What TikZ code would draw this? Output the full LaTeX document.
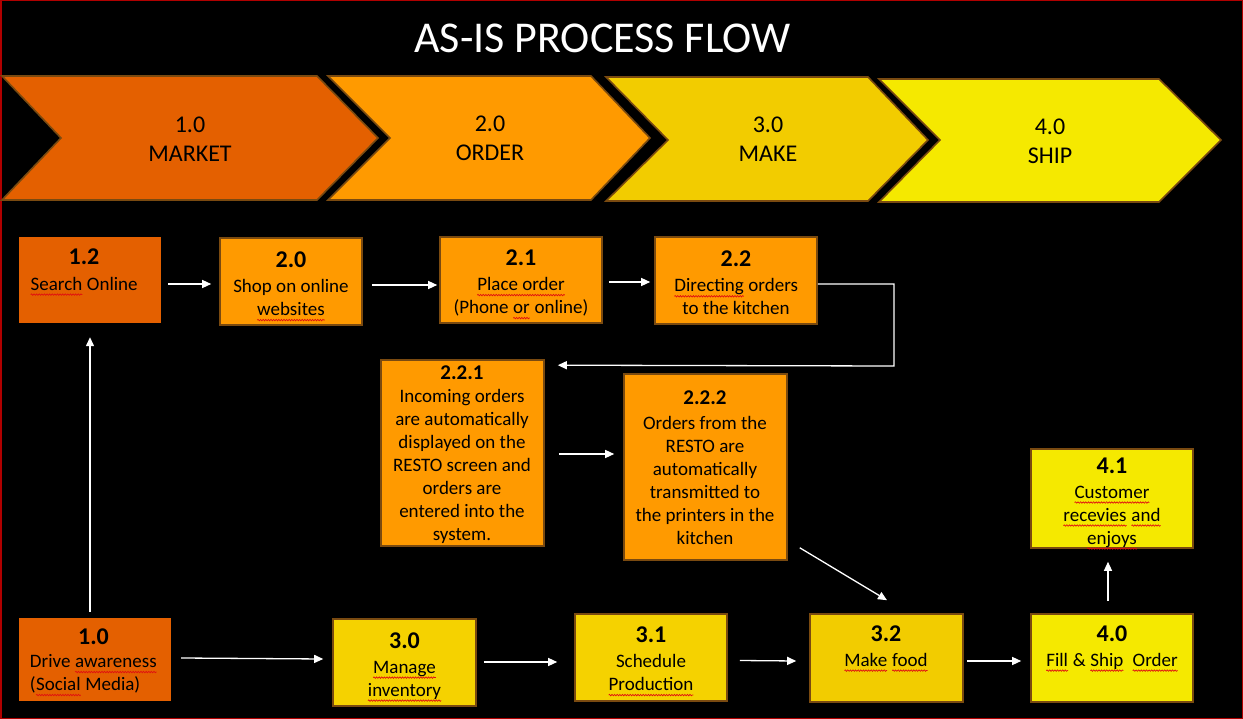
\documentclass[tikz,border=0pt]{standalone}
\usepackage{fontspec}
\setmainfont{Carlito}
\usetikzlibrary{arrows.meta,calc,decorations.pathmorphing}
\definecolor{dorange}{HTML}{E46000}
\definecolor{orangeC}{HTML}{FF9A00}
\definecolor{goldC}{HTML}{F2CC00}
\definecolor{goldB}{HTML}{F5D200}
\definecolor{yellowC}{HTML}{F5E900}
\definecolor{brownB}{HTML}{7A4A10}
\definecolor{frameRed}{HTML}{B00000}
\definecolor{squig}{HTML}{E01010}
\newcommand{\nm}[1]{{\fontsize{24}{26}\selectfont\bfseries #1}}
\newcommand{\nms}[1]{{\fontsize{21}{23}\selectfont\bfseries #1}}
\newcommand{\sq}[1]{\tikz[baseline=(w.base)]{\node[inner sep=0pt, outer sep=0pt] (w) {#1};
  \draw[squig, line width=0.7pt, decorate, decoration={snake, amplitude=0.7pt, segment length=2.6pt}]
    ([yshift=-4.5pt]w.base west) -- ([yshift=-4.5pt]w.base east);}}
\begin{document}
\begin{tikzpicture}[x=1pt,y=-1pt,
  chev/.style={draw=brownB, line width=1.6pt, line join=miter},
  box/.style={rectangle, draw=brownB, line width=1.6pt, inner sep=0pt},
  flatbox/.style={rectangle, draw=none, inner sep=0pt},
  txt/.style={align=center, font=\fontsize{19}{23}\selectfont, text=black, inner sep=0pt},
  chevtxt/.style={align=center, font=\fontsize{24}{29}\selectfont, text=black, inner sep=0pt},
  titletxt/.style={font=\fontsize{44}{50}\selectfont, text=white, inner sep=0pt, anchor=base},
  arr/.style={draw=white, line width=1.3pt, -{Triangle[length=9pt,width=8pt]}}]
\fill[black] (0,0) rectangle (1243,719);
\useasboundingbox (0,0) rectangle (1243,719);
\draw[frameRed, line width=1.5pt] (0.75,0.75) rectangle (1242.25,718.25);

% title
\node[titletxt] (title) at (602.5,53) {AS-IS PROCESS FLOW};

% chevrons
\draw[chev, fill=dorange] (2,76) -- (317,76) -- (378,138) -- (317,200) -- (2,200) -- (61,138) -- cycle;
\draw[chev, fill=orangeC] (328,76) -- (591,76) -- (650,138) -- (591,200) -- (328,200) -- (390,138) -- cycle;
\draw[chev, fill=goldC] (606,77) -- (868,77) -- (928,140) -- (868,201) -- (606,201) -- (668,140) -- cycle;
\draw[chev, fill=yellowC] (879,79) -- (1159,79) -- (1221,140) -- (1159,202) -- (879,202) -- (940,140) -- cycle;
\node[chevtxt] (ch1) at (190,139.5) {1.0\\MARKET};
\node[chevtxt] (ch2) at (490,138.5) {2.0\\ORDER};
\node[chevtxt] (ch3) at (768,139.5) {3.0\\MAKE};
\node[chevtxt] (ch4) at (1050,141) {4.0\\SHIP};

% boxes
\node[flatbox, fill=dorange, minimum width=142, minimum height=86] (b12) at (90,280) {};
\node[box, fill=orangeC, minimum width=142, minimum height=87] (b20) at (291,281.5) {};
\node[box, fill=orangeC, minimum width=162, minimum height=86] (b21) at (521,280) {};
\node[box, fill=orangeC, minimum width=162, minimum height=87] (b22) at (736,280.5) {};
\node[box, fill=orangeC, minimum width=163, minimum height=186] (b221) at (462.5,453) {};
\node[box, fill=orangeC, minimum width=163, minimum height=186] (b222) at (705.5,467) {};
\node[box, fill=yellowC, minimum width=162, minimum height=99] (b41) at (1112,498.5) {};
\node[flatbox, fill=dorange, minimum width=152, minimum height=83] (b10) at (95,659.5) {};
\node[box, fill=goldB, minimum width=143, minimum height=87] (b30) at (404.5,662.5) {};
\node[box, fill=goldB, minimum width=152, minimum height=87] (b31) at (651,657.5) {};
\node[box, fill=goldC, minimum width=153, minimum height=88] (b32) at (886.5,658) {};
\node[box, fill=yellowC, minimum width=162, minimum height=88] (b40) at (1112,658) {};

% texts
\node[txt] (t12) at (84,272) {\nm{1.2}\\[3pt]\sq{Search} Online};
\node[txt] (t20) at (291,286.5) {\nm{2.0}\\[2pt]Shop on online\\\sq{websites}};
\node[txt] (t21) at (521,284.5) {\nm{2.1}\\[2pt]\sq{Place order}\\(Phone \sq{or} online)};
\node[txt] (t22) at (736,283) {\nm{2.2}\\[2pt]\sq{Directing} orders\\to the kitchen};
\node[txt] (t221) at (462,455) {\nms{2.2.1}\\Incoming orders\\are automatically\\displayed on the\\RESTO screen and\\orders are\\entered into the\\system.};
\node[txt] (t222) at (705,467.5) {\nms{2.2.2}\\[2pt]Orders from the\\RESTO are\\automatically\\transmitted to\\the printers in the\\kitchen};
\node[txt] (t41) at (1112,503.5) {\nm{4.1}\\[2pt]\sq{Customer}\\\sq{recevies} \sq{and}\\\sq{enjoys}};
\node[txt] (t10) at (93.5,663) {\nm{1.0}\\[6pt]\begin{tabular}{@{}l@{}}Drive \sq{awareness}\\(\sq{Social} Media)\end{tabular}};
\node[txt] (t30) at (404.5,667) {\nm{3.0}\\[2pt]\sq{Manage}\\\sq{inventory}};
\node[txt] (t31) at (651,661.5) {\nm{3.1}\\[2pt]Schedule\\\sq{Production}};
\node[txt] (t32) at (886,648.5) {\nm{3.2}\\[2pt]\sq{Make} \sq{food}};
\node[txt] (t40) at (1112,648.5) {\nm{4.0}\\[2pt]\sq{Fill} \& \sq{Ship}~ \sq{Order}};

% connectors
\draw[arr] ($(b12.east)+(7,4)$) -- ($(b20.west)+(-8,2.5)$);
\draw[arr] ($(b20.east)+(9,3.5)$) -- ($(b21.west)+(-2,5)$);
\draw[arr] ($(b21.east)+(6,2)$) -- ($(b22.west)+(-4,1.5)$);
\coordinate (c1) at (894,366);
\draw[arr] ($(b22.east)+(0,3.5)$) -| (c1) -- ($(b221.north east)+(13,6)$);
\draw[arr] ($(b221.east)+(14,1)$) -- ($(b222.west)+(-9,-13)$);
\draw[arr] ($(b222.south east)+(12,-13)$) -- ($(b32.north)+(0.5,-13)$);
\draw[arr] ($(b10.north)+(-5,-6)$) -- ($(b12.south)+(0,14)$);
\draw[arr] ($(b10.east)+(10,-1.5)$) -- ($(b30.west)+(-9,-3.5)$);
\draw[arr] ($(b30.east)+(7,-0.5)$) -- ($(b31.west)+(-17,4.5)$);
\draw[arr] ($(b31.east)+(12,3)$) -- ($(b32.west)+(-13,3)$);
\draw[arr] ($(b32.east)+(3,3)$) -- ($(b40.west)+(-9,3)$);
\draw[arr] ($(b40.north)+(-4,-12)$) -- ($(b41.south)+(-4,13)$);
\end{tikzpicture}
\end{document}
